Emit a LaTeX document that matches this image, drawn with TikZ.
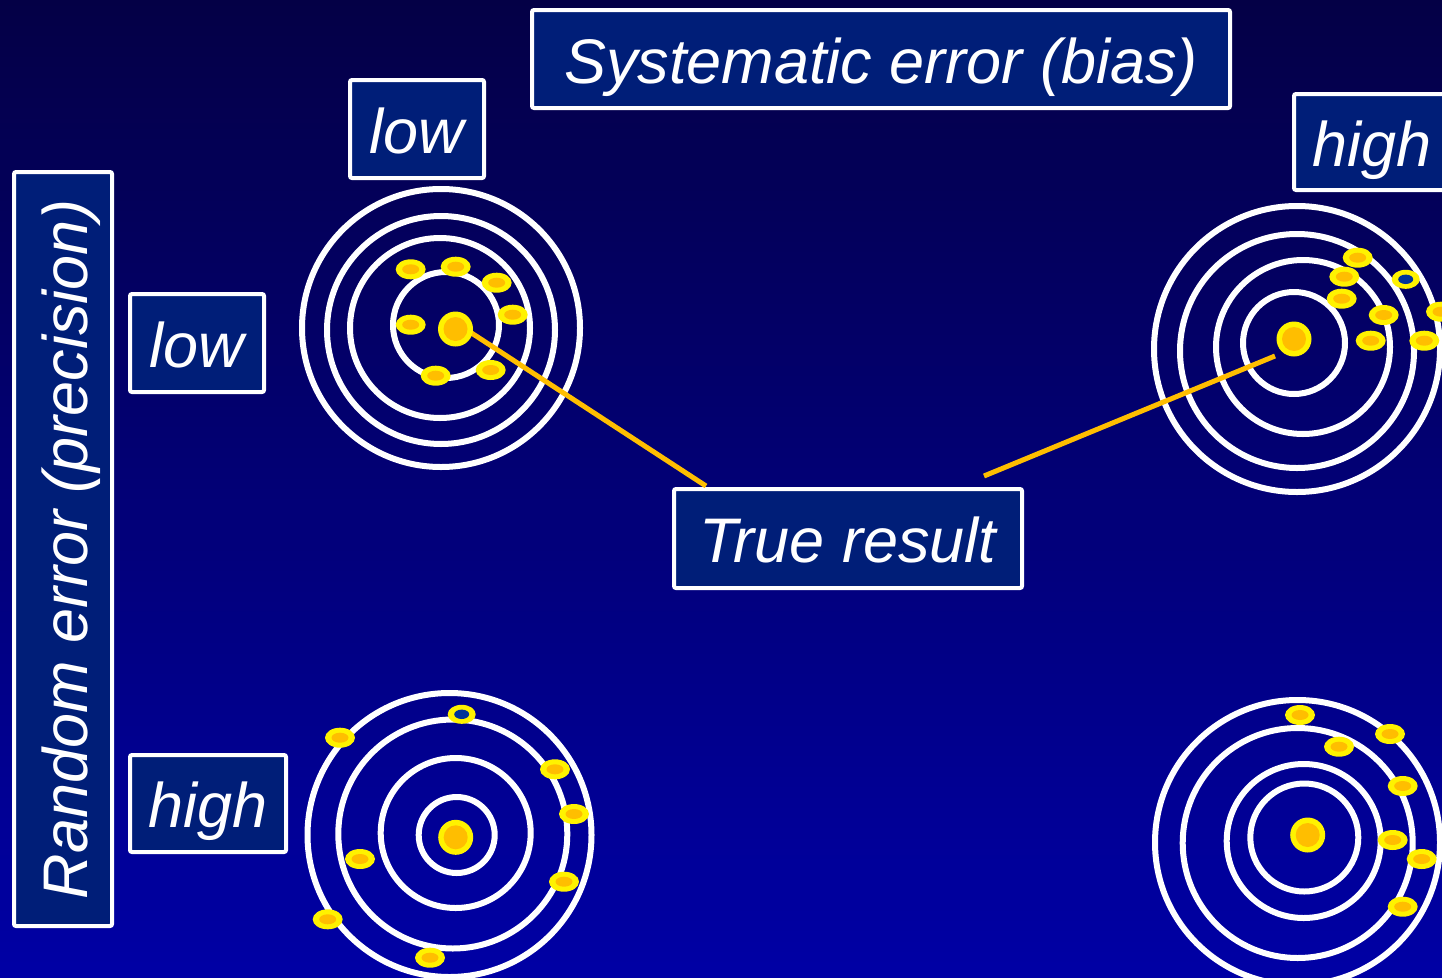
\documentclass[tikz,border=0pt]{standalone}
\usepackage{fontspec}
\setmainfont{Liberation Sans}
\definecolor{bgtop}{RGB}{4,0,70}
\definecolor{bgbot}{RGB}{0,0,165}
\definecolor{boxfill}{RGB}{0,30,120}
\definecolor{gold}{RGB}{255,190,0}
\definecolor{hollowblue}{RGB}{0,51,153}
\newcommand\shot[2]{\fill[yellow] (#1,#2) ellipse [x radius=15,y radius=10];
  \fill[gold] (#1,#2) ellipse [x radius=8.5,y radius=5];}
\newcommand\hollowshot[2]{\fill[yellow] (#1,#2) ellipse [x radius=14,y radius=9.5];
  \fill[hollowblue] (#1,#2) ellipse [x radius=7.5,y radius=4.7];}
\newcommand\bull[1]{\fill[yellow] (#1) circle (17.5); \fill[gold] (#1) circle (12);}
\tikzset{
  ring/.style={draw=white, line width=6},
  lbl/.style={draw=white, line width=4, fill=boxfill, text=white,
    font=\fontsize{63}{70}\selectfont\itshape, inner sep=0pt, rounded corners=2pt,
    text height=48pt, text depth=0pt},
  pointer/.style={draw=gold, line width=5},
}
\begin{document}
\begin{tikzpicture}[x=1pt,y=-1pt]
\useasboundingbox (0,0) rectangle (1442,977);
\clip (0,0) rectangle (1442,977);
\shade[top color=bgtop, bottom color=bgbot] (0,0) rectangle (1442,977);

% labels
\node[lbl, minimum width=698, minimum height=98] (sys) at (881,59) {Systematic error (bias)};
\node[lbl, minimum width=134, minimum height=98] (lowtop) at (417,129) {low};
\node[lbl, minimum width=156, minimum height=96] (hightop) at (1372,142) {high};
\node[lbl, minimum width=134, minimum height=98] (lowleft) at (197,343) {low};
\node[lbl, minimum width=156, minimum height=97] (highleft) at (208,803.5) {high};
\node[lbl, minimum width=348, minimum height=99] (true) at (848,538.5) {True result};
\node[lbl, rotate=90, minimum width=754, minimum height=98] (rand) at (63,549) {Random error (precision)};

% target top-left
\draw[ring] (441,328) circle (139);
\draw[ring] (441,330) circle (114);
\draw[ring] (440,328) circle (90);
\draw[ring] (446,325) circle (53);
\coordinate (tlc) at (455.5,329);
\coordinate (tlstart) at (470,332);
\coordinate (tlend) at (706,486);
\draw[pointer] (tlstart) -- (tlend);
\bull{tlc}
\shot{410.7}{269.3}
\shot{455.7}{266.7}
\shot{496.7}{282.7}
\shot{512.7}{314.7}
\shot{410.7}{324.7}
\shot{435.7}{375.7}
\shot{490.7}{370}

% target top-right
\draw[ring] (1297,349) circle (143);
\draw[ring] (1297,351) circle (117);
\draw[ring] (1303,347) circle (87);
\draw[ring] (1294,343) circle (51);
\coordinate (trc) at (1294,339);
\coordinate (trstart) at (1275,356);
\coordinate (trend) at (984,476);
\draw[pointer] (trstart) -- (trend);
\bull{trc}
\shot{1357.7}{257.7}
\shot{1344.3}{276.7}
\shot{1341.7}{298.7}
\hollowshot{1405.7}{279.3}
\shot{1383.7}{315}
\shot{1370.7}{340.7}
\shot{1424.3}{340.7}
\shot{1441}{311.7}

% target bottom-left
\draw[ring] (449.5,835) circle (142);
\draw[ring] (452.8,834) circle (114.5);
\draw[ring] (455.7,833) circle (75);
\draw[ring] (456.7,835) circle (38);
\coordinate (blc) at (455.7,837.3);
\bull{blc}
\shot{340}{737.7}
\hollowshot{461.7}{714.3}
\shot{555}{769.3}
\shot{574}{814}
\shot{360}{859}
\shot{564}{881.7}
\shot{327.7}{919.3}
\shot{430}{957.7}

% target bottom-right
\draw[ring] (1297.5,842.5) circle (142.5);
\draw[ring] (1297.7,843) circle (115);
\draw[ring] (1303.7,841) circle (77);
\draw[ring] (1304.3,837.5) circle (54);
\coordinate (brc) at (1307.7,835);
\bull{brc}
\shot{1300}{715}
\shot{1390}{734}
\shot{1339}{746.7}
\shot{1402.7}{786}
\shot{1392.7}{840}
\shot{1421.7}{859}
\shot{1402.7}{906.7}
\end{tikzpicture}
\end{document}
